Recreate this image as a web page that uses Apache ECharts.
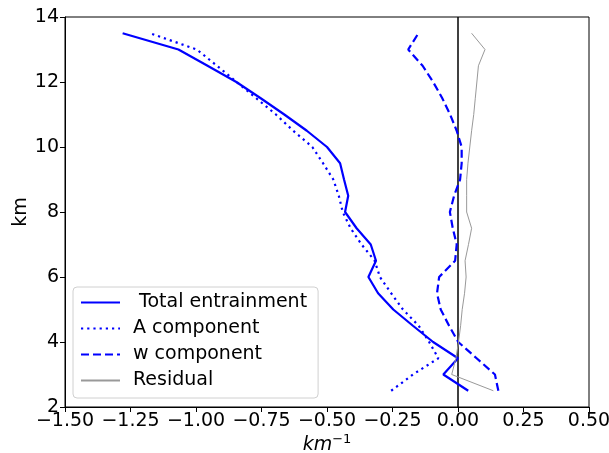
<!DOCTYPE html>
<html>
<head>
<meta charset="utf-8">
<script src="https://cdn.jsdelivr.net/npm/echarts@6/dist/echarts.min.js"></script>
<style>html,body{margin:0;padding:0;background:#fff}#c{width:609px;height:453px}</style>
</head>
<body>
<div id="c"></div>
<script>
const heights = [2.5,3.0,3.5,4.0,4.5,5.0,5.5,6.0,6.5,7.0,7.5,8.0,8.5,9.0,9.5,10.0,10.5,11.0,11.5,12.0,12.5,13.0,13.5];
const totalEntrainment = [0.039,-0.056,0.0,-0.095,-0.172,-0.247,-0.305,-0.342,-0.313,-0.333,-0.387,-0.431,-0.419,-0.435,-0.45,-0.50,-0.577,-0.663,-0.753,-0.846,-0.956,-1.067,-1.28];
const aComponent = [-0.255,-0.172,-0.075,-0.11,-0.15,-0.21,-0.255,-0.298,-0.318,-0.368,-0.41,-0.44,-0.455,-0.476,-0.515,-0.556,-0.629,-0.695,-0.77,-0.845,-0.92,-0.997,-1.176];
const wComponent = [0.154,0.141,0.071,0.001,-0.034,-0.066,-0.08,-0.072,-0.011,-0.005,-0.02,-0.031,-0.015,0.008,0.014,0.014,-0.005,-0.03,-0.06,-0.095,-0.135,-0.19,-0.151];
const residual = [0.135,-0.024,-0.008,0.002,0.01,0.016,0.025,0.031,0.027,0.04,0.052,0.033,0.033,0.033,0.038,0.045,0.052,0.06,0.066,0.072,0.078,0.103,0.052];
const zeroLineX = [0, 0];
const zeroLineY = [2, 14];
const xTicks = [-1.5,-1.25,-1.0,-0.75,-0.5,-0.25,0.0,0.25,0.5];
const yTicks = [2,4,6,8,10,12,14];

const pairs = vals => vals.map((v,i)=>[v, heights[i]]);
const fmt = v => (v < 0 ? '\u2212' : '') + Math.abs(v).toFixed(2);
const FONT = 'DejaVu Sans';

const chart = echarts.init(document.getElementById('c'), null, {renderer:'canvas'});
chart.setOption({
  animation:false,
  backgroundColor:'#fff',
  textStyle:{fontFamily:FONT},
  grid:{left:65,right:20,top:17,bottom:46,outerBoundsMode:'none',show:true,borderColor:'#000',borderWidth:1,backgroundColor:'transparent'},
  xAxis:{
    type:'value',min:xTicks[0],max:xTicks[xTicks.length-1],interval:0.25,
    axisLine:{show:true,onZero:false,lineStyle:{color:'#000',width:1}},
    axisTick:{show:true,length:5,lineStyle:{color:'#000'}},
    splitLine:{show:false},
    axisLabel:{color:'#000',fontSize:19,fontFamily:FONT,margin:5,formatter:fmt,showMinLabel:true,showMaxLabel:true,hideOverlap:false},
    name:'{a|km}{b|\u22121}',nameLocation:'middle',nameGap:26,nameMoveOverlap:false,
    nameTextStyle:{rich:{a:{fontSize:19,fontStyle:'italic',fontFamily:FONT,color:'#000',lineHeight:22,verticalAlign:'bottom'},b:{fontSize:13,fontFamily:FONT,color:'#000',verticalAlign:'top',lineHeight:22}}}
  },
  yAxis:{
    type:'value',min:yTicks[0],max:yTicks[yTicks.length-1],interval:2,
    axisLine:{show:true,onZero:false,lineStyle:{color:'#000',width:1}},
    axisTick:{show:true,length:5,lineStyle:{color:'#000'}},
    splitLine:{show:false},
    axisLabel:{color:'#000',fontSize:19,fontFamily:FONT,margin:6},
    name:'km',nameLocation:'middle',nameGap:34,nameRotate:90,nameMoveOverlap:false,
    nameTextStyle:{color:'#000',fontSize:19,fontFamily:FONT}
  },
  legend:{
    left:73,top:287,orient:'vertical',
    itemWidth:39,itemHeight:14,itemGap:7,
    padding:[6,11,8,7],
    backgroundColor:'#fff',borderColor:'#d0d0d0',borderWidth:1,borderRadius:4,
    itemStyle:{opacity:0},
    textStyle:{color:'#000',fontSize:19,fontFamily:FONT,padding:[0,0,0,8]},
    data:[' Total entrainment','A component','w component','Residual']
  },
  series:[
    {name:'zero',type:'line',data:zeroLineX.map((v,i)=>[v, zeroLineY[i]]),symbol:'none',silent:true,z:1,lineStyle:{color:'#000',width:1.5,type:'solid'}},
    {name:' Total entrainment',type:'line',data:pairs(totalEntrainment),symbol:'none',z:3,lineStyle:{color:'#0000ff',width:2.2,type:'solid'},itemStyle:{color:'#0000ff'}},
    {name:'A component',type:'line',data:pairs(aComponent),symbol:'none',z:3,lineStyle:{color:'#0000ff',width:2.2,type:[2.2,4]},itemStyle:{color:'#0000ff'}},
    {name:'w component',type:'line',data:pairs(wComponent),symbol:'none',z:3,lineStyle:{color:'#0000ff',width:2.2,type:[8,4]},itemStyle:{color:'#0000ff'}},
    {name:'Residual',type:'line',data:pairs(residual),symbol:'none',z:3,lineStyle:{color:'#999999',width:1},itemStyle:{color:'#999999'}}
  ]
});
</script>
</body>
</html>
